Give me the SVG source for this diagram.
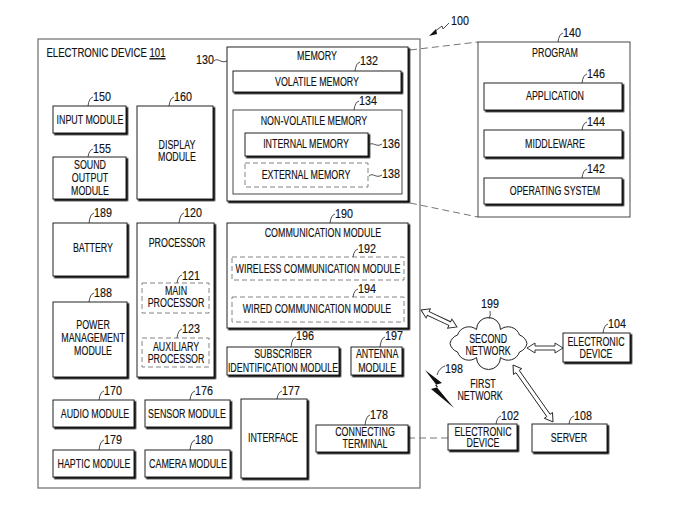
<svg xmlns="http://www.w3.org/2000/svg" width="695" height="525" viewBox="0 0 695 525">
<defs>
<filter id="sh" x="-10%" y="-10%" width="130%" height="130%">
<feDropShadow dx="1.6" dy="1.6" stdDeviation="0.2" flood-color="#000" flood-opacity="1"/>
</filter>
<style>
text{font-family:"Liberation Sans",Arial,sans-serif;font-size:12.5px;fill:#111;stroke:#111;stroke-width:0.15;text-anchor:middle;transform-box:fill-box;transform-origin:center;transform:scaleX(0.71)}
text.n{font-size:12.5px;transform:scaleX(0.86)}
text.t{transform:scaleX(0.77)}
.b{fill:#fff;stroke:#222;stroke-width:1}
.sh{filter:url(#sh)}
.d{fill:#fff;stroke:#777;stroke-width:0.9;stroke-dasharray:5 3}
.thin{fill:#fff;stroke:#333;stroke-width:0.9}
.ld{fill:none;stroke:#222;stroke-width:0.8}
.dl{fill:none;stroke:#666;stroke-width:0.9;stroke-dasharray:7 4}
.ar{fill:#fff;stroke:#222;stroke-width:0.9}
</style>
</defs>
<rect width="695" height="525" fill="#fff"/>

<g id="connectors">
<path class="dl" d="M410,50 L478,42"/>
<path class="dl" d="M410,203 L478,217"/>
<path class="dl" d="M408,438 L448,438"/>
<g transform="translate(421,310) rotate(25.3)"><polygon class="ar" points="0,0 8,-5 8,-2 31.8,-2 31.8,-5 39.8,0 31.8,5 31.8,2 8,2 8,5"/></g>
<g transform="translate(527,348)"><polygon class="ar" points="0,0 8,-5 8,-2 28,-2 28,-5 36,0 28,5 28,2 8,2 8,5"/></g>
<g transform="translate(513,365) rotate(54.9)"><polygon class="ar" points="0,0 8,-5 8,-2 61.6,-2 61.6,-5 69.6,0 61.6,5 61.6,2 8,2 8,5"/></g>
<polygon points="425,370 442,383 435,385 454,408 431,389 438,387" fill="#111"/>
<path class="ld" d="M437,375 Q439,368 445,366"/>
<path class="ld" d="M449,23 L443,29 L442,26 L434,32"/>
<polygon points="429,36 436,29 437,34" fill="#111"/>
</g>

<g id="n101">
<rect x="38" y="39" width="382" height="449" fill="none" stroke="#777" stroke-width="1.3"/>
<text class="t" x="106" y="57">ELECTRONIC DEVICE <tspan text-decoration="underline">101</tspan></text>
<text class="n" x="460" y="25">100</text>
</g>

<g id="n130">
<rect class="b sh" x="227" y="47" width="181" height="154"/>
<text class="n" x="205" y="64">130</text>
<path class="ld" d="M214,61 C218,57 221,64 227,61"/>
<text x="317" y="60">MEMORY</text>
</g>
<g id="n132">
<rect class="b sh" x="233" y="71" width="168" height="21"/>
<path class="ld" d="M355,71 Q356,63 360,62"/>
<text class="n" x="369" y="65">132</text>
<text x="317" y="86">VOLATILE MEMORY</text>
</g>
<g id="n134">
<rect class="thin" x="233" y="110" width="169" height="84"/>
<path class="ld" d="M354,110 Q355,102 359,101"/>
<text class="n" x="368" y="105">134</text>
<text x="314" y="125">NON-VOLATILE MEMORY</text>
</g>
<g id="n136">
<rect class="b sh" x="245" y="133" width="123" height="23"/>
<text x="306" y="148">INTERNAL MEMORY</text>
<path class="ld" d="M369,145 C373,141 376,148 382,144"/>
<text class="n" x="391" y="148">136</text>
</g>
<g id="n138">
<rect class="d" x="245" y="163" width="123" height="24"/>
<text x="306" y="179">EXTERNAL MEMORY</text>
<path class="ld" d="M369,176 C373,172 376,179 382,175"/>
<text class="n" x="391" y="178">138</text>
</g>

<g id="n140">
<rect class="thin" x="478" y="42" width="152" height="175"/>
<path class="ld" d="M558,42 Q559,34 563,33"/>
<text class="n" x="572" y="37">140</text>
<text x="555" y="57">PROGRAM</text>
</g>
<g id="n146">
<rect class="b sh" x="484" y="83" width="138" height="27"/>
<path class="ld" d="M582,83 Q583,75 587,74"/>
<text class="n" x="596" y="78">146</text>
<text x="555" y="100">APPLICATION</text>
</g>
<g id="n144">
<rect class="b sh" x="484" y="130" width="138" height="27"/>
<path class="ld" d="M582,130 Q583,123 587,122"/>
<text class="n" x="596" y="126">144</text>
<text x="555" y="148">MIDDLEWARE</text>
</g>
<g id="n142">
<rect class="b sh" x="484" y="178" width="138" height="26"/>
<path class="ld" d="M582,178 Q583,170 587,169"/>
<text class="n" x="596" y="173">142</text>
<text x="555" y="195">OPERATING SYSTEM</text>
</g>

<g id="n150">
<rect class="b sh" x="53" y="106" width="73" height="27"/>
<path class="ld" d="M88,106 Q89,98 93,97"/>
<text class="n" x="102" y="101">150</text>
<text x="90" y="124">INPUT MODULE</text>
</g>
<g id="n160">
<rect class="b sh" x="137" y="106" width="76" height="93"/>
<path class="ld" d="M169,106 Q170,98 174,97"/>
<text class="n" x="183" y="101">160</text>
<text><tspan x="177" y="149">DISPLAY</tspan><tspan x="177" y="161">MODULE</tspan></text>
</g>
<g id="n155">
<rect class="b sh" x="53" y="157" width="73" height="42"/>
<path class="ld" d="M88,157 Q89,150 93,149"/>
<text class="n" x="102" y="153">155</text>
<text><tspan x="90" y="169">SOUND</tspan><tspan x="90" y="182">OUTPUT</tspan><tspan x="90" y="195">MODULE</tspan></text>
</g>
<g id="n189">
<rect class="b sh" x="53" y="223" width="74" height="53"/>
<path class="ld" d="M89,223 Q90,214 94,213"/>
<text class="n" x="103" y="217">189</text>
<text x="93" y="252">BATTERY</text>
</g>
<g id="n120">
<rect class="b sh" x="137" y="223" width="77" height="154"/>
<path class="ld" d="M179,223 Q180,214 184,213"/>
<text class="n" x="193" y="217">120</text>
<text x="177" y="247">PROCESSOR</text>
</g>
<g id="n121">
<rect class="d" x="142" y="283" width="67" height="30"/>
<path class="ld" d="M177,283 Q178,276 182,275"/>
<text class="n" x="191" y="280">121</text>
<text><tspan x="176" y="295">MAIN</tspan><tspan x="176" y="307">PROCESSOR</tspan></text>
</g>
<g id="n123">
<rect class="d" x="142" y="338" width="67" height="29"/>
<path class="ld" d="M177,338 Q178,330 182,329"/>
<text class="n" x="191" y="333">123</text>
<text><tspan x="176" y="351">AUXILIARY</tspan><tspan x="176" y="363">PROCESSOR</tspan></text>
</g>
<g id="n188">
<rect class="b sh" x="53" y="302" width="74" height="75"/>
<path class="ld" d="M89,302 Q90,294 94,293"/>
<text class="n" x="103" y="297">188</text>
<text><tspan x="93" y="329">POWER</tspan><tspan x="93" y="342">MANAGEMENT</tspan><tspan x="93" y="355">MODULE</tspan></text>
</g>

<g id="n190">
<rect class="b sh" x="227" y="223" width="181" height="105"/>
<path class="ld" d="M330,223 Q331,215 335,214"/>
<text class="n" x="344" y="218">190</text>
<text x="323" y="237">COMMUNICATION MODULE</text>
</g>
<g id="n192">
<rect class="d" x="232" y="257" width="172" height="23"/>
<path class="ld" d="M353,257 Q354,250 358,249"/>
<text class="n" x="367" y="253">192</text>
<text x="318" y="273">WIRELESS COMMUNICATION MODULE</text>
</g>
<g id="n194">
<rect class="d" x="232" y="297" width="172" height="25"/>
<path class="ld" d="M353,297 Q354,290 358,289"/>
<text class="n" x="367" y="293">194</text>
<text x="317" y="313">WIRED COMMUNICATION MODULE</text>
</g>
<g id="n196">
<rect class="b sh" x="227" y="347" width="112" height="28"/>
<path class="ld" d="M291,347 Q292,338 296,337"/>
<text class="n" x="305" y="340">196</text>
<text><tspan x="283" y="358">SUBSCRIBER</tspan><tspan x="283" y="372">IDENTIFICATION MODULE</tspan></text>
</g>
<g id="n197">
<rect class="b sh" x="351" y="347" width="51" height="28"/>
<path class="ld" d="M380,347 Q381,338 385,337"/>
<text class="n" x="394" y="340">197</text>
<text><tspan x="377" y="358">ANTENNA</tspan><tspan x="377" y="372">MODULE</tspan></text>
</g>

<g id="n170">
<rect class="b sh" x="53" y="400" width="81" height="27"/>
<path class="ld" d="M99,400 Q100,392 104,391"/>
<text class="n" x="113" y="395">170</text>
<text x="95" y="418">AUDIO MODULE</text>
</g>
<g id="n176">
<rect class="b sh" x="145" y="400" width="85" height="27"/>
<path class="ld" d="M190,400 Q191,392 195,391"/>
<text class="n" x="204" y="395">176</text>
<text x="187" y="418">SENSOR MODULE</text>
</g>
<g id="n179">
<rect class="b sh" x="53" y="450" width="81" height="27"/>
<path class="ld" d="M99,450 Q100,441 104,440"/>
<text class="n" x="113" y="444">179</text>
<text x="94" y="468">HAPTIC MODULE</text>
</g>
<g id="n180">
<rect class="b sh" x="145" y="450" width="85" height="27"/>
<path class="ld" d="M190,450 Q191,441 195,440"/>
<text class="n" x="204" y="444">180</text>
<text x="188" y="468">CAMERA MODULE</text>
</g>
<g id="n177">
<rect class="b sh" x="241" y="399" width="66" height="79"/>
<path class="ld" d="M277,399 Q278,392 282,391"/>
<text class="n" x="291" y="395">177</text>
<text x="273" y="442">INTERFACE</text>
</g>
<g id="n178">
<rect class="b sh" x="316" y="425" width="92" height="27"/>
<path class="ld" d="M365,425 Q366,416 370,415"/>
<text class="n" x="379" y="419">178</text>
<text><tspan x="365" y="436">CONNECTING</tspan><tspan x="365" y="448">TERMINAL</tspan></text>
</g>

<g id="n199">
<path class="b" d="M527,343.5 A12,12 0 0 1 519.5,352 A12,12 0 0 1 500.5,357.5 A12,12 0 0 1 476.5,357.5 A12,12 0 0 1 457.5,352 A12,12 0 0 1 450,343.5 A12,12 0 0 1 457.5,335 A12,12 0 0 1 476.5,329.5 A12,12 0 0 1 500.5,329.5 A12,12 0 0 1 519.5,335 A12,12 0 0 1 527,343.5 Z"/>
<path class="ld" d="M489,319 Q491,315 490,311"/>
<text class="n" x="490" y="308">199</text>
<text><tspan x="488" y="343">SECOND</tspan><tspan x="488" y="355">NETWORK</tspan></text>
</g>
<g id="n198">
<text class="n" x="454" y="373">198</text>
<text><tspan x="484" y="388">FIRST</tspan><tspan x="480" y="400">NETWORK</tspan></text>
</g>
<g id="n104">
<rect class="b sh" x="563" y="333" width="67" height="29"/>
<path class="ld" d="M603,333 Q604,325 608,324"/>
<text class="n" x="617" y="328">104</text>
<text><tspan x="596" y="346">ELECTRONIC</tspan><tspan x="596" y="358">DEVICE</tspan></text>
</g>
<g id="n102">
<rect class="b sh" x="448" y="424" width="69" height="26"/>
<path class="ld" d="M496,424 Q497,417 501,416"/>
<text class="n" x="510" y="420">102</text>
<text><tspan x="483" y="436">ELECTRONIC</tspan><tspan x="483" y="447">DEVICE</tspan></text>
</g>
<g id="n108">
<rect class="b sh" x="532" y="424" width="75" height="28"/>
<path class="ld" d="M569,424 Q570,417 574,416"/>
<text class="n" x="583" y="420">108</text>
<text x="569" y="442">SERVER</text>
</g>
</svg>
